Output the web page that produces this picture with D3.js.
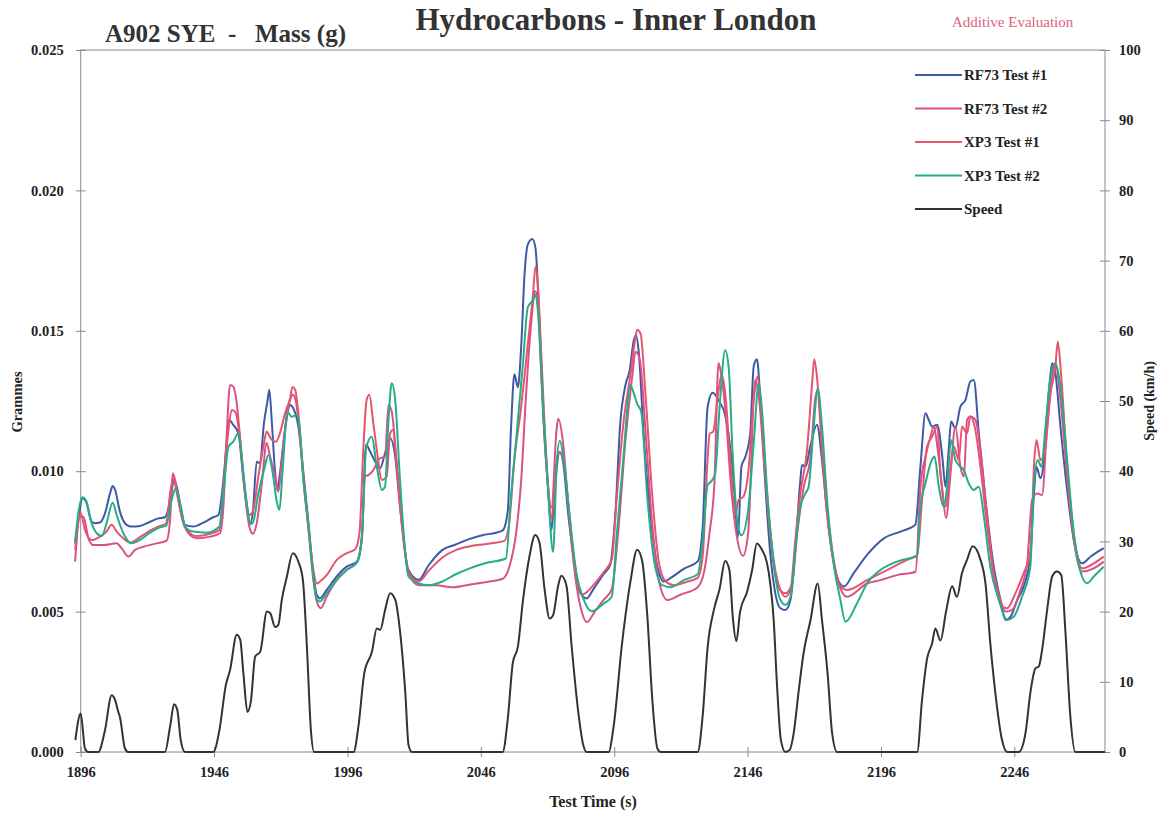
<!DOCTYPE html>
<html>
<head>
<meta charset="utf-8">
<script src="https://cdn.jsdelivr.net/npm/d3@7"></script>
<style>
  body { margin: 0; background: #fff; }
  text { font-family: "Liberation Serif", "Times New Roman", serif; }
</style>
</head>
<body>
<svg id="chart" width="1166" height="814"></svg>
<script>
// time (s), mass (g x 1000)
const rf73Test1 = [[1893.9,7.43],[1895.1,8.26],[1896.7,9.04],[1898,8.92],[1900.1,8.2],[1901.4,8.15],[1903.2,8.17],[1905.1,8.5],[1907,9.21],[1908,9.47],[1908.9,9.33],[1910.7,8.56],[1913.2,8.09],[1915.1,8.03],[1918.2,8.05],[1922,8.2],[1925.1,8.32],[1927.6,8.36],[1929.5,8.92],[1931,9.69],[1932,9.45],[1933.5,8.74],[1935.1,8.09],[1938.2,8.03],[1942,8.17],[1945.7,8.36],[1947.6,8.44],[1949.5,9.69],[1950.7,11.0],[1951.6,11.83],[1953.2,11.65],[1955.1,11.35],[1957,9.69],[1958.2,8.74],[1959.5,8.15],[1960.5,8.5],[1962,10.34],[1963.2,10.28],[1964.7,11.71],[1966,12.48],[1966.7,12.9],[1967.6,11.83],[1968.9,9.93],[1969.7,9.33],[1970.7,9.93],[1972.6,11.47],[1974.5,12.36],[1975.7,12.24],[1977.6,11.59],[1979.5,9.93],[1981.4,8.15],[1983.2,6.36],[1984.5,5.59],[1985.7,5.47],[1988.2,5.77],[1992,6.25],[1995.7,6.6],[1999.5,6.78],[2001.4,7.67],[2003,10.94],[2004.5,10.7],[2006.4,10.34],[2008.2,10.1],[2010.1,10.64],[2012,11.17],[2013.9,10.52],[2015.7,8.74],[2018.9,6.48],[2022.7,6.13],[2026.5,6.66],[2031.5,7.19],[2036.6,7.39],[2041.6,7.58],[2046.6,7.72],[2051.7,7.81],[2054.2,7.89],[2056.1,8.57],[2057.3,11.48],[2058.6,13.45],[2059.9,12.99],[2061.1,14.38],[2062.4,17.02],[2063.6,18.07],[2065.3,18.27],[2066.5,17.94],[2067.8,15.7],[2069.3,12.27],[2071.2,9.36],[2072.5,7.91],[2073.7,9.36],[2075.6,10.68],[2076.9,10.29],[2078.8,8.44],[2081.3,6.6],[2083.2,5.67],[2085.7,5.47],[2088.2,5.8],[2092,6.33],[2094.5,6.66],[2096.4,8.44],[2098.3,11.74],[2100.2,13.06],[2101.8,13.59],[2103.3,14.64],[2104.2,14.84],[2105.2,14.25],[2107.1,11.21],[2109.6,8.44],[2112.2,6.6],[2114.7,6.07],[2117.2,6.2],[2122.2,6.53],[2127.3,6.79],[2129.2,8.05],[2131,12.27],[2132.9,12.79],[2135.5,12.46],[2137.4,12.07],[2139.2,11.08],[2141.1,9.23],[2142.4,7.65],[2143.7,10.16],[2145.2,10.52],[2147,11.35],[2148.3,13.73],[2149.5,13.99],[2150.8,12.54],[2152.7,9.45],[2154.5,7.08],[2156.4,5.65],[2158.3,5.12],[2160.2,5.06],[2162.1,5.42],[2163.9,7.2],[2165.8,9.69],[2166.4,10.22],[2167.7,10.16],[2169.5,10.88],[2172,11.65],[2173.9,10.4],[2175.8,8.5],[2177.7,7.08],[2180.2,6.07],[2182.1,5.89],[2185.8,6.37],[2190.8,7.02],[2197.1,7.61],[2203.3,7.85],[2208.9,8.09],[2210.8,10.16],[2212.7,12.06],[2213.9,11.83],[2215.2,11.59],[2217.1,11.65],[2219,10.52],[2220.2,9.45],[2221.4,10.76],[2222.3,11.77],[2223.9,11.53],[2225.8,12.3],[2227.7,12.54],[2229.5,13.19],[2230.8,13.25],[2232.7,11.35],[2235.2,8.98],[2238.3,6.6],[2240.8,5.42],[2242.7,4.7],[2244.6,4.82],[2247.1,5.42],[2249.5,5.89],[2252,6.96],[2253.3,9.1],[2254.3,10.16],[2255.8,9.75],[2257,10.28],[2258.9,12.78],[2260.2,13.84],[2261.4,13.49],[2263.3,11.59],[2265.8,9.33],[2268.3,7.55],[2271.4,6.72],[2274.6,6.96],[2279.5,7.26]];

const rf73Test2 = [[1893.9,6.78],[1895.7,8.38],[1897,8.38],[1898.9,7.61],[1900.7,7.37],[1904.5,7.37],[1909.5,7.43],[1911.4,7.25],[1913.9,6.96],[1916.4,7.2],[1919.5,7.31],[1924.5,7.43],[1928.2,7.53],[1929.5,8.26],[1930.5,9.93],[1931.4,9.69],[1932.6,8.98],[1934.5,8.15],[1937,7.73],[1939.5,7.61],[1944.5,7.67],[1948.2,7.79],[1949.5,8.74],[1950.7,11.23],[1952,13.07],[1953.2,13.01],[1954.5,12.42],[1955.7,11.23],[1957.6,9.21],[1959.2,8.03],[1960.5,7.77],[1962,8.15],[1963.9,9.57],[1965.7,11.0],[1967,10.52],[1968.9,9.81],[1970.1,9.27],[1971.4,10.4],[1973.2,11.94],[1974.5,12.54],[1975.5,12.72],[1976.4,12.6],[1977.6,11.83],[1979.5,9.69],[1981.4,7.91],[1983.2,6.13],[1984.7,5.3],[1986,5.12],[1988.2,5.53],[1992,6.13],[1995.7,6.48],[1999.5,6.75],[2001.4,7.55],[2002.6,9.81],[2004,9.87],[2005.7,10.04],[2008.2,10.46],[2010.1,10.52],[2011.4,12.36],[2012.6,12.12],[2014.5,10.28],[2016.4,8.26],[2018.9,6.36],[2022.7,5.94],[2029,5.94],[2035.3,5.87],[2041.6,5.96],[2049.2,6.07],[2054.2,6.17],[2056.7,6.6],[2059.2,7.78],[2061.1,9.63],[2063,12.79],[2064.9,15.3],[2066.4,16.42],[2067.4,16.09],[2068.7,13.32],[2070.6,10.16],[2072.5,8.71],[2074.4,11.48],[2075,11.87],[2076.9,10.95],[2078.8,8.71],[2081.3,6.33],[2083.8,5.01],[2085.7,4.62],[2088.8,5.01],[2092,5.41],[2095.1,5.8],[2097.7,8.05],[2100.2,11.08],[2102.7,13.32],[2104,14.25],[2105.6,13.98],[2107.7,11.48],[2110.3,8.05],[2112.8,6.07],[2116,5.41],[2121,5.61],[2127.3,5.87],[2129.8,6.46],[2131.7,7.78],[2133.6,9.63],[2135.1,13.85],[2136.1,13.45],[2137.6,12.27],[2139.9,9.36],[2141.8,7.78],[2144.3,6.99],[2146.2,7.78],[2148.9,13.25],[2150.2,12.66],[2152.7,9.69],[2155.2,7.08],[2157.7,5.83],[2160.2,5.65],[2162.7,6.01],[2164.6,7.79],[2167.1,9.45],[2169.6,10.52],[2171.4,12.6],[2172.3,12.9],[2173.9,11.11],[2175.8,8.74],[2178.3,6.84],[2180.8,5.83],[2183.3,5.53],[2190.8,6.0],[2195.8,6.12],[2202,6.3],[2209,6.42],[2210.8,9.45],[2212.7,10.52],[2214.6,11.23],[2215.8,11.59],[2217.3,10.76],[2218.9,9.45],[2220.4,8.33],[2222.1,9.93],[2223.9,11.59],[2225.8,10.16],[2227.1,9.81],[2228.3,11.83],[2229.5,11.95],[2231.4,11.83],[2233.3,10.76],[2235.8,8.38],[2238.3,6.37],[2240.8,5.42],[2242.7,5.0],[2245.2,5.06],[2248.3,5.77],[2250.8,6.72],[2252.7,8.98],[2254.5,9.21],[2256.4,9.15],[2258.3,11.59],[2260.2,13.37],[2261.4,13.84],[2263.3,12.54],[2265.8,9.81],[2268.3,7.55],[2271.4,6.43],[2275.8,6.54],[2279.5,6.78]];

const xp3Test1 = [[1893.9,7.2],[1896,8.5],[1897.6,7.91],[1900.1,7.55],[1903.2,7.67],[1905.7,7.85],[1907.6,8.09],[1909.5,7.85],[1912,7.61],[1914.5,7.46],[1918.2,7.65],[1922,7.88],[1925.7,8.05],[1928,8.14],[1929.7,9.33],[1930.7,9.75],[1932.2,9.15],[1934.2,8.26],[1936.4,7.85],[1939.5,7.69],[1944.5,7.77],[1948,7.91],[1949.5,9.45],[1951.4,11.47],[1952.6,12.18],[1953.9,12.12],[1955.5,11.35],[1957.6,9.33],[1959.2,8.44],[1960.5,8.56],[1962.6,9.81],[1964.5,10.88],[1965.7,11.41],[1967.2,11.17],[1969.2,11.05],[1970.7,11.35],[1972.6,12.06],[1974.5,12.6],[1975.4,13.0],[1976.4,12.9],[1977.6,12.06],[1979.5,9.81],[1981.4,8.0],[1983.2,6.5],[1984.5,6.0],[1985.7,6.07],[1988.2,6.3],[1992,6.84],[1995.7,7.08],[1998.9,7.22],[2000.5,7.79],[2002,10.88],[2003.2,12.54],[2004.2,12.72],[2005.7,11.71],[2007,10.76],[2008.9,9.69],[2010.7,9.81],[2012,11.35],[2013,11.47],[2014.5,10.16],[2016.4,8.1],[2018.9,6.4],[2022.7,6.07],[2026.5,6.46],[2031.5,6.92],[2036.6,7.19],[2041.6,7.32],[2047.9,7.41],[2054.8,7.52],[2056.5,8.05],[2058.6,10.42],[2061.1,12.27],[2063.6,14.51],[2065.5,16.22],[2066.5,17.28],[2067.4,16.62],[2068.7,14.11],[2070.6,10.42],[2072.5,8.31],[2074.1,10.16],[2075.6,10.68],[2076.9,10.42],[2078.8,8.84],[2081.3,6.6],[2083.8,5.61],[2085.4,5.67],[2088.2,5.94],[2092,6.4],[2095.1,6.86],[2097,9.1],[2099.5,11.74],[2102.1,13.45],[2103.7,14.6],[2104.6,15.04],[2105.9,14.9],[2107.7,12.79],[2110.3,9.1],[2112.8,6.73],[2115.3,6.07],[2118.5,5.94],[2123.5,6.07],[2127.3,6.2],[2129.2,6.99],[2131,10.42],[2131.8,11.34],[2133.1,11.41],[2135,12.79],[2136.3,13.45],[2137.6,12.79],[2139.5,10.42],[2141.4,8.44],[2142.6,8.97],[2144.5,9.1],[2146.2,9.9],[2148.3,12.54],[2149.8,13.37],[2151,12.3],[2153.3,9.21],[2155.8,6.84],[2158.3,5.77],[2160.2,5.53],[2162.1,5.77],[2163.9,7.55],[2165.8,9.21],[2168.3,10.76],[2170.2,13.13],[2171,13.99],[2172,13.37],[2173.9,10.76],[2175.8,8.5],[2178.3,6.72],[2180.8,5.9],[2183.3,5.77],[2190.8,6.12],[2198.3,6.48],[2205.8,6.84],[2209.6,7.01],[2211.4,8.98],[2213.3,10.88],[2215.2,11.23],[2217.1,11.59],[2218.3,9.93],[2220.2,8.74],[2222.1,10.16],[2223.3,10.88],[2225.2,10.4],[2226.4,11.59],[2228.3,11.35],[2229.5,11.95],[2231.4,11.47],[2233.3,10.16],[2235.8,8.03],[2238.3,6.25],[2241.4,5.18],[2243.3,5.12],[2246.4,5.65],[2249.5,6.37],[2252,7.08],[2253.5,10.4],[2254.3,11.11],[2255.8,10.4],[2257.3,10.64],[2259.6,12.78],[2261.4,13.73],[2262.3,14.62],[2263.6,13.37],[2265.8,10.16],[2268.3,7.79],[2271.4,6.54],[2275.8,6.72],[2279.5,6.96]];

const xp3Test2 = [[1893.9,7.49],[1895.1,8.5],[1896.7,9.07],[1898,8.95],[1900.1,8.15],[1902,7.79],[1903.9,7.69],[1905.7,8.15],[1908,8.88],[1909.5,8.44],[1912,7.79],[1915.1,7.43],[1918.2,7.55],[1922,7.81],[1925.7,8.0],[1928,8.05],[1930.1,8.98],[1931.7,9.39],[1933.2,8.86],[1935.1,8.03],[1938.2,7.85],[1943.2,7.81],[1948,8.03],[1949.5,9.21],[1951.4,10.88],[1953.2,11.05],[1955.1,11.35],[1956.7,10.16],[1958.5,8.68],[1959.5,8.12],[1960.5,8.15],[1962.6,9.21],[1964.7,10.04],[1966.4,10.58],[1968,9.93],[1969.5,8.92],[1970.5,8.62],[1971.7,10.04],[1973.5,12.12],[1975.1,11.94],[1977,12.0],[1978,11.6],[1979.5,9.69],[1981.4,8.03],[1983.2,6.3],[1984.5,5.42],[1985.7,5.36],[1988.2,5.65],[1992,6.13],[1995.7,6.48],[1999.8,6.78],[2001.4,7.67],[2003,10.82],[2005.1,11.23],[2007,10.16],[2008.9,9.33],[2010.1,9.45],[2011.4,11.83],[2012.6,13.13],[2013.9,12.54],[2015.7,9.69],[2018.9,6.25],[2022.7,6.0],[2026.5,5.94],[2031.5,6.07],[2036.6,6.33],[2041.6,6.53],[2047.9,6.73],[2055.4,6.89],[2057.3,9.1],[2059.2,11.08],[2061.8,13.85],[2063.6,15.83],[2065.5,16.09],[2066.5,16.29],[2067.4,15.7],[2069.1,12.79],[2071.2,9.36],[2073.1,7.12],[2074.4,10.16],[2075.6,11.08],[2077.1,10.42],[2079.4,8.31],[2081.9,6.33],[2084.4,5.47],[2087.5,5.01],[2092,5.28],[2095.1,5.54],[2097,7.78],[2099.5,10.55],[2102.1,13.06],[2103.3,12.79],[2104.6,12.4],[2106.1,12.13],[2108.4,9.1],[2110.9,6.86],[2114,5.94],[2117.2,5.87],[2122.2,6.13],[2127.3,6.33],[2129.2,7.52],[2131,9.5],[2132.3,9.63],[2133.8,9.89],[2135.5,12.27],[2137.6,14.31],[2138.9,13.72],[2140.5,10.42],[2142.4,8.05],[2143.7,7.72],[2146.2,8.6],[2148.3,11.0],[2150.2,13.13],[2151.4,12.18],[2153.3,9.33],[2155.8,6.72],[2158.3,5.42],[2160.2,5.24],[2162.1,5.53],[2163.9,7.2],[2165.8,8.74],[2167.7,9.21],[2168.9,9.45],[2170.8,11.59],[2172.3,12.95],[2173.9,11.59],[2175.8,8.98],[2178.3,6.72],[2180.8,5.42],[2182.7,4.64],[2187,5.29],[2190.8,6.0],[2195.8,6.48],[2202,6.78],[2209.6,7.01],[2210.8,8.74],[2212.7,9.57],[2214.6,10.28],[2216.1,10.52],[2217.7,9.45],[2219.6,8.74],[2220.8,9.45],[2222.3,11.11],[2223.9,10.4],[2225.8,10.16],[2227.1,10.04],[2228.9,9.57],[2230.8,9.33],[2232.7,9.45],[2234.6,8.38],[2237,6.6],[2240.2,5.42],[2243.3,4.7],[2245.8,4.82],[2248.9,5.53],[2252,6.6],[2253.3,9.45],[2254.8,10.4],[2256.1,10.16],[2257.7,11.59],[2259.6,13.37],[2261.4,13.84],[2263.3,13.01],[2265.8,10.4],[2268.3,7.79],[2271.4,6.25],[2273.3,6.01],[2275.8,6.25],[2279.5,6.6]];

// time (s), speed (km/h)
const speed = [[1894,1.7],[1896,5.5],[1897.6,0.5],[1898.8,0],[1902.6,0],[1905.1,3.1],[1907.6,8.1],[1908.9,7.4],[1910.1,5.7],[1910.7,5.0],[1912.6,0.5],[1913.8,0],[1927.6,0],[1929.5,3.6],[1931,6.8],[1932.2,6],[1933.5,1.7],[1935.1,0],[1945.7,0],[1948,3.1],[1950.4,9.5],[1952,11.7],[1954.5,16.7],[1955.8,16],[1957,11.2],[1958.5,5.7],[1959.8,7.2],[1961.4,13.6],[1963.3,14.3],[1965.8,20],[1967,19.8],[1968.9,17.8],[1970.1,18.1],[1971.4,21.7],[1973.3,25],[1975.5,28.3],[1977.6,27.1],[1979.3,24.5],[1980.8,15],[1982.3,3.1],[1983.5,0],[1998.3,0],[2000.1,3.6],[2002.3,11.2],[2005.2,14.3],[2007,17.6],[2008.3,17.4],[2010.1,20.2],[2012,22.6],[2013.9,21.7],[2015.8,16.9],[2017.7,8.4],[2018.9,1],[2020.2,0],[2054.2,0],[2056.1,4.7],[2058,12.7],[2059.9,15],[2061.8,21.6],[2064.3,28],[2066.4,30.9],[2068,29.8],[2069.9,23.2],[2071.8,19],[2073.1,19.5],[2075,23.7],[2076.2,25.1],[2078.1,23.7],[2080,15.3],[2082.5,5.8],[2084.4,1],[2085.7,0],[2093.9,0],[2095.8,3.7],[2098.9,15.3],[2102.1,24.3],[2104.6,28.8],[2106.5,27.2],[2108.4,19.5],[2110.3,7.4],[2112.2,0.5],[2113.4,0],[2127.3,0],[2129.2,5.3],[2131,14.8],[2133.6,20.6],[2135.5,23.2],[2137.6,27.2],[2139.2,25.9],[2140.5,19],[2141.8,15.8],[2143.2,20],[2145.8,22.8],[2147.7,25.9],[2149.5,29.7],[2151.4,28.8],[2153.3,26.9],[2154.5,24],[2155.8,18.8],[2157,9.8],[2158.5,1.7],[2160.2,0],[2161.8,0.3],[2163.3,2.7],[2165.2,8.8],[2167,14.1],[2169.6,18.8],[2172.3,24],[2173.9,18.8],[2176,11.2],[2177.7,2.7],[2179.6,0],[2209.6,0],[2211.4,7.4],[2213.3,13.3],[2215.2,15.5],[2216.4,17.6],[2218.3,15.9],[2220.5,20.2],[2222.7,23.6],[2224.5,22.1],[2226.4,25.5],[2228.3,27.4],[2230.4,29.3],[2233.3,27.4],[2235.2,24],[2237,15.5],[2238.9,8.4],[2241.4,1.7],[2243.3,0],[2247.7,0],[2250.2,2.7],[2252,8.4],[2253.9,11.9],[2255.2,12.2],[2256.4,14.5],[2258.3,20.2],[2260.2,25],[2262,25.7],[2263.6,25.2],[2265.2,16.9],[2267,5.1],[2268.9,0],[2280,0]];

const xTicks = [1896, 1946, 1996, 2046, 2096, 2146, 2196, 2246];
const gramTicks = [0, 0.005, 0.010, 0.015, 0.020, 0.025];
const speedTicks = [0, 10, 20, 30, 40, 50, 60, 70, 80, 90, 100];

const series = [
  { name: "RF73 Test #1", data: rf73Test1, color: "#3d5aa6" },
  { name: "RF73 Test #2", data: rf73Test2, color: "#d9508a" },
  { name: "XP3 Test #1", data: xp3Test1, color: "#e6556d" },
  { name: "XP3 Test #2", data: xp3Test2, color: "#25ad88" }
];

const svg = d3.select("#chart");
const plotL = 80.7, plotR = 1105, plotT = 50, plotB = 752;

const x = d3.scaleLinear().domain([1896, 2280]).range([plotL, plotR]);
const yG = d3.scaleLinear().domain([0, 0.025]).range([plotB, plotT]);
const yS = d3.scaleLinear().domain([0, 100]).range([plotB, plotT]);

const axisColor = "#8a8a8a";

// axes
const xAxis = svg.append("g")
  .attr("transform", `translate(0,${plotB})`)
  .call(d3.axisBottom(x).tickValues(xTicks).tickFormat(d3.format("d")).tickSize(5));
xAxis.selectAll(".tick line").attr("y1", -5).attr("y2", 5);

const yAxisL = svg.append("g")
  .attr("transform", `translate(${plotL},0)`)
  .call(d3.axisLeft(yG).tickValues(gramTicks).tickFormat(d3.format(".3f")).tickSize(5));
yAxisL.selectAll(".tick line").attr("x1", -5).attr("x2", 5);

const yAxisR = svg.append("g")
  .attr("transform", `translate(${plotR},0)`)
  .call(d3.axisRight(yS).tickValues(speedTicks).tickSize(5));
yAxisR.selectAll(".tick line").attr("x1", -5).attr("x2", 5);

[xAxis, yAxisL, yAxisR].forEach(g => g.select(".domain").remove());

// frame
svg.append("rect")
  .attr("x", plotL).attr("y", plotT)
  .attr("width", plotR - plotL).attr("height", plotB - plotT)
  .attr("fill", "none").attr("stroke", axisColor).attr("stroke-width", 1);

svg.selectAll(".tick line").attr("stroke", axisColor);
svg.selectAll(".tick text")
  .attr("fill", "#222")
  .style("font-family", "'Liberation Serif', serif")
  .style("font-weight", "bold")
  .style("font-size", "14.5px");
xAxis.selectAll(".tick text").attr("y", 15);
yAxisL.selectAll(".tick text").attr("x", -17);
yAxisR.selectAll(".tick text").attr("x", 14);

// lines
const gLine = d3.line().x(d => x(d[0])).y(d => yG(d[1] / 1000)).curve(d3.curveMonotoneX);
const sLine = d3.line().x(d => x(d[0])).y(d => yS(d[1])).curve(d3.curveMonotoneX);

series.forEach(s => {
  svg.append("path")
    .datum(s.data)
    .attr("fill", "none")
    .attr("stroke", s.color)
    .attr("stroke-width", 2)
    .attr("stroke-linejoin", "round")
    .attr("d", gLine);
});

svg.append("path")
  .datum(speed)
  .attr("fill", "none")
  .attr("stroke", "#333")
  .attr("stroke-width", 2)
  .attr("stroke-linejoin", "round")
  .attr("d", sLine);

// legend
const legend = series.map(s => ({ name: s.name, color: s.color }))
  .concat([{ name: "Speed", color: "#333" }]);
legend.forEach((d, i) => {
  const ly = 75 + i * 33.5;
  svg.append("line")
    .attr("x1", 915).attr("x2", 962).attr("y1", ly).attr("y2", ly)
    .attr("stroke", d.color).attr("stroke-width", 2);
  svg.append("text")
    .attr("x", 964).attr("y", ly + 5)
    .style("font-size", "15px").style("font-weight", "bold")
    .attr("fill", "#222")
    .text(d.name);
});

// titles
svg.append("text")
  .attr("x", 616).attr("y", 30)
  .attr("text-anchor", "middle")
  .style("font-size", "31px").style("font-weight", "bold")
  .attr("fill", "#333")
  .text("Hydrocarbons - Inner London");

svg.append("text")
  .attr("x", 105).attr("y", 42)
  .style("font-size", "25px").style("font-weight", "bold")
  .style("white-space", "pre")
  .attr("fill", "#333")
  .text("A902 SYE  -   Mass (g)");

svg.append("text")
  .attr("x", 952).attr("y", 27)
  .style("font-size", "15px")
  .attr("fill", "#e0607c")
  .text("Additive Evaluation");

svg.append("text")
  .attr("transform", "translate(22,402) rotate(-90)")
  .attr("text-anchor", "middle")
  .style("font-size", "14.5px").style("font-weight", "bold")
  .attr("fill", "#222")
  .text("Grammes");

svg.append("text")
  .attr("transform", "translate(1154,401) rotate(-90)")
  .attr("text-anchor", "middle")
  .style("font-size", "14px").style("font-weight", "bold")
  .attr("fill", "#222")
  .text("Speed (km/h)");

svg.append("text")
  .attr("x", 593).attr("y", 807)
  .attr("text-anchor", "middle")
  .style("font-size", "16px").style("font-weight", "bold")
  .attr("fill", "#222")
  .text("Test Time (s)");
</script>
</body>
</html>
